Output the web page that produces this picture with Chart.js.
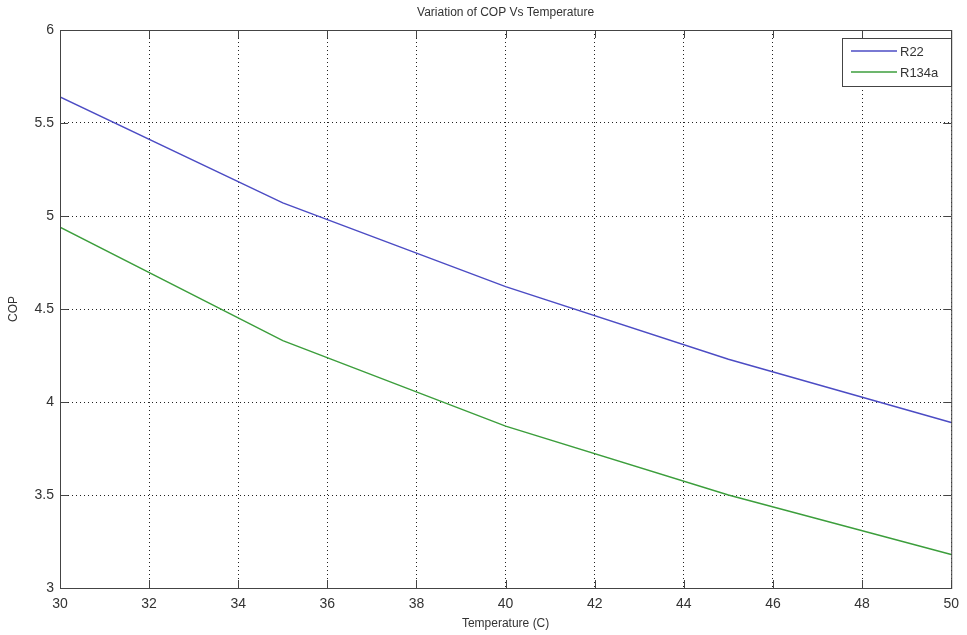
<!DOCTYPE html>
<html>
<head>
<meta charset="utf-8">
<script src="https://cdn.jsdelivr.net/npm/chart.js@4"></script>
<style>
  html, body { margin: 0; padding: 0; background: #fff; }
  #wrap { width: 967px; height: 635px; }
</style>
</head>
<body>
<div id="wrap"><canvas id="copChart" width="967" height="635"></canvas></div>
<script>
// temperatures (C) and COP values
const temps = [30, 35, 40, 45, 50];
const copR22 = [5.64, 5.07, 4.62, 4.23, 3.89];
const copR134a = [4.94, 4.33, 3.87, 3.50, 3.18];
const seriesNames = ["R22", "R134a"];
const seriesColors = ["#4c4cc4", "#3c9e3c"];

const toPoints = (ys) => temps.map((t, i) => ({ x: t, y: ys[i] }));

// box round the axes + MATLAB style inward ticks, title, legend
const matlabAxes = {
  id: "matlabAxes",
  afterDraw(chart) {
    const { ctx, chartArea: a, scales } = chart;
    ctx.save();
    ctx.strokeStyle = "#444";
    ctx.lineWidth = 1;
    ctx.strokeRect(a.left + 0.5, a.top + 0.5, a.right - a.left, a.bottom - a.top);

    ctx.beginPath();
    scales.x.ticks.forEach(t => {
      const px = Math.round(scales.x.getPixelForValue(t.value)) + 0.5;
      ctx.moveTo(px, a.bottom); ctx.lineTo(px, a.bottom - 8);
      ctx.moveTo(px, a.top); ctx.lineTo(px, a.top + 8);
    });
    scales.y.ticks.forEach(t => {
      const py = Math.round(scales.y.getPixelForValue(t.value)) + 0.5;
      ctx.moveTo(a.left, py); ctx.lineTo(a.left + 8, py);
      ctx.moveTo(a.right, py); ctx.lineTo(a.right - 8, py);
    });
    ctx.stroke();

    // title
    ctx.fillStyle = "#333";
    ctx.font = "12px Arial, 'Liberation Sans', sans-serif";
    ctx.textAlign = "center";
    ctx.textBaseline = "middle";
    ctx.fillText("Variation of COP Vs Temperature", (a.left + a.right) / 2, 13);

    // legend
    const bx = 842, by = 38, bw = 109, bh = 48;
    ctx.fillStyle = "#fff";
    ctx.fillRect(bx, by, bw, bh);
    ctx.strokeStyle = "#444";
    ctx.strokeRect(bx + 0.5, by + 0.5, bw, bh);
    ctx.font = "13px Arial, 'Liberation Sans', sans-serif";
    ctx.textAlign = "left";
    seriesNames.forEach((name, i) => {
      const ly = by + 13 + i * 21;
      ctx.strokeStyle = seriesColors[i];
      ctx.lineWidth = 1.3;
      ctx.beginPath();
      ctx.moveTo(bx + 9, ly); ctx.lineTo(bx + 55, ly);
      ctx.stroke();
      ctx.fillStyle = "#333";
      ctx.fillText(name, bx + 58, ly + 1);
    });
    ctx.restore();
  }
};

const ctx = document.getElementById("copChart").getContext("2d");
const copChart = new Chart(ctx, {
  type: "line",
  data: {
    datasets: [
      {
        label: seriesNames[0],
        data: toPoints(copR22),
        borderColor: seriesColors[0],
        borderWidth: 1.4,
        pointRadius: 0,
        fill: false
      },
      {
        label: seriesNames[1],
        data: toPoints(copR134a),
        borderColor: seriesColors[1],
        borderWidth: 1.4,
        pointRadius: 0,
        fill: false
      }
    ]
  },
  options: {
    responsive: false,
    animation: false,
    layout: { padding: { top: 30, right: 10, left: 0, bottom: 0 } },
    plugins: {
      legend: { display: false },
      title: { display: false },
      tooltip: { enabled: false }
    },
    scales: {
      x: {
        type: "linear",
        min: 30,
        max: 50,
        ticks: {
          stepSize: 2,
          color: "#333",
          padding: 8,
          font: { size: 14, family: "Arial, 'Liberation Sans', sans-serif" },
          callback: (v) => String(v)
        },
        grid: {
          color: "#222",
          drawTicks: false,
          lineWidth: 1
        },
        border: { display: false, dash: [1, 3] },
        title: {
          display: true,
          text: "Temperature (C)",
          color: "#333",
          padding: { top: 0 },
          font: { size: 12, family: "Arial, 'Liberation Sans', sans-serif" }
        },
        afterFit(scale) { scale.height = 47; }
      },
      y: {
        type: "linear",
        min: 3,
        max: 6,
        ticks: {
          stepSize: 0.5,
          color: "#333",
          padding: 6,
          font: { size: 14, family: "Arial, 'Liberation Sans', sans-serif" },
          callback: (v) => String(v)
        },
        grid: {
          color: "#222",
          drawTicks: false,
          lineWidth: 1
        },
        border: { display: false, dash: [1, 3] },
        title: {
          display: true,
          text: "COP",
          color: "#333",
          padding: { top: 6, bottom: 4 },
          font: { size: 12, family: "Arial, 'Liberation Sans', sans-serif" }
        },
        afterFit(scale) { scale.width = 60; }
      }
    }
  },
  plugins: [matlabAxes]
});
</script>
</body>
</html>
